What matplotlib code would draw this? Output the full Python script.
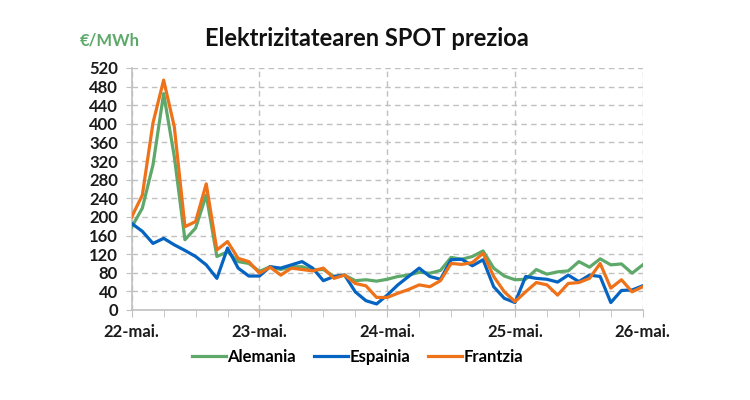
import numpy as np
import matplotlib
matplotlib.use("Agg")
import matplotlib.pyplot as plt
from matplotlib.ticker import MultipleLocator

# prices every 2 hours, 22-mai 00h .. 26-mai 00h
alemania = [178, 219, 312, 465, 330, 151, 176, 247, 115, 125, 104, 100,
            83, 93, 87, 93, 93, 86, 87, 72, 75, 63, 65, 62,
            66, 72, 75, 81, 79, 85, 113, 109, 115, 127, 90, 73,
            65, 66, 87, 77, 82, 84, 104, 92, 110, 97, 99, 79,
            97]
espainia = [186, 169, 143, 154, 140, 128, 115, 97, 68, 133, 90, 73,
            73, 93, 90, 97, 104, 90, 63, 72, 75, 39, 20, 13,
            32, 54, 72, 90, 72, 66, 108, 109, 95, 108, 50, 25,
            16, 72, 68, 66, 60, 75, 61, 75, 72, 16, 42, 43,
            52]
frantzia = [200, 247, 402, 494, 394, 179, 190, 271, 129, 147, 111, 104,
            79, 92, 75, 90, 87, 84, 90, 68, 75, 57, 52, 27,
            27, 36, 44, 54, 50, 63, 100, 98, 102, 122, 72, 39,
            18, 39, 59, 54, 32, 57, 59, 68, 100, 47, 65, 39,
            50]
day_labels = ["22-mai.", "23-mai.", "24-mai.", "25-mai.", "26-mai."]
series_names = ["Alemania", "Espainia", "Frantzia"]

plt.rcParams['font.family'] = ['Lato', 'DejaVu Sans']
plt.rcParams['font.weight'] = 'bold'

green = "#5ea96a"
blue = "#0563c1"
orange = "#ee7219"
grid_col = "#c0c0c0"

fig = plt.figure(figsize=(7.5, 4), dpi=100)
ax = fig.add_axes([0.1756, 0.225, 0.857 - 0.1756, 0.83 - 0.225])

x = np.arange(len(alemania)) / 12.0
ax.plot(x, alemania, color=green, lw=2.3, label=series_names[0], zorder=3)
ax.plot(x, espainia, color=blue, lw=2.3, label=series_names[1], zorder=4)
ax.plot(x, frantzia, color=orange, lw=2.3, label=series_names[2], zorder=5)

ax.set_xlim(0, 4)
ax.set_ylim(0, 520)
ax.set_xticks(range(5))
ax.set_xticklabels(day_labels)
ax.xaxis.set_minor_locator(MultipleLocator(0.25))
ax.set_yticks(range(0, 521, 40))

ax.tick_params(axis='x', which='both', length=5, color=grid_col, labelsize=12, pad=5)
ax.tick_params(axis='y', length=4, color=grid_col, labelsize=12, pad=6)
for lab in ax.get_xticklabels() + ax.get_yticklabels():
    lab.set_fontweight('bold')
    lab.set_color('#1a1a1a')

ax.grid(True, which='major', color=grid_col, ls=(0, (4, 3)), lw=1)
for s in ['top', 'right']:
    ax.spines[s].set_visible(False)
for s in ['left', 'bottom']:
    ax.spines[s].set_color(grid_col)
    ax.spines[s].set_linewidth(1.2)

fig.text(0.489, 0.905, "Elektrizitatearen SPOT prezioa", ha='center', va='center',
         fontsize=17, fontweight='bold', color='#111111')
fig.text(0.147, 0.8975, "€/MWh", ha='center', va='center',
         fontsize=12, fontweight='bold', color=green)

fig.legend(loc='center', bbox_to_anchor=(0.477, 0.107), ncol=3, frameon=False,
           handlelength=2.0, handletextpad=0.1, columnspacing=1.1,
           prop={'size': 12, 'weight': 'bold'})

fig.savefig("out.png", dpi=100)
